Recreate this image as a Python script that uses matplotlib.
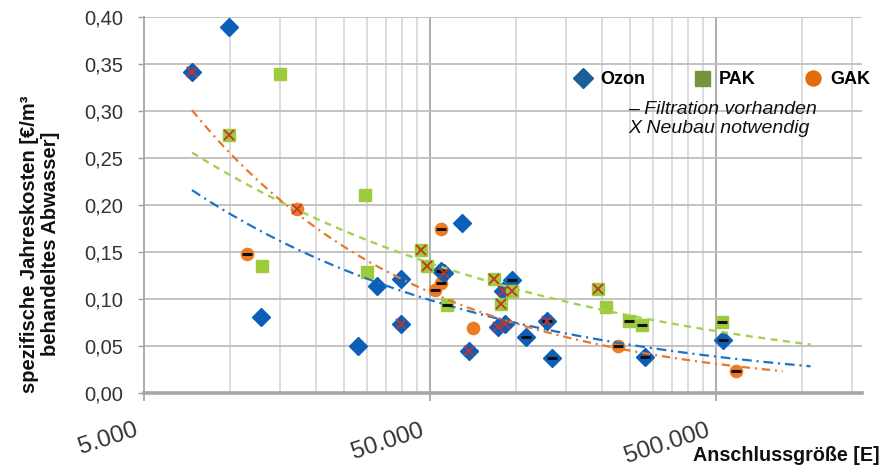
import numpy as np
import matplotlib
matplotlib.use("Agg")
import matplotlib.pyplot as plt
from matplotlib.lines import Line2D
from matplotlib.ticker import NullFormatter

# ---------------- data ----------------
ozon_x = [7360, 9900, 12800, 28000, 32600, 39600, 39600, 64700, 54600, 56000,
          68500, 86500, 91500, 96700, 90000, 108000, 128000, 133500, 282000, 529000]
ozon_y = [0.341, 0.389, 0.081, 0.050, 0.114, 0.1215, 0.0736, 0.181, 0.130, 0.128,
          0.0448, 0.0704, 0.0736, 0.1205, 0.108, 0.060, 0.077, 0.0373, 0.0384, 0.0565]
ozon_dash = [0, 0, 0, 0, 0, 0, 0, 0, 1, 0, 0, 0, 0, 1, 0, 1, 1, 1, 1, 1]
ozon_cross = [1, 0, 0, 0, 0, 0, 1, 0, 0, 1, 1, 1, 1, 0, 1, 0, 1, 0, 0, 0]

pak_x = [9900, 14950, 12900, 29600, 30100, 46500, 48800, 57300, 83700, 88600,
         96700, 193000, 206000, 248000, 275000, 525000]
pak_y = [0.274, 0.339, 0.135, 0.211, 0.129, 0.1525, 0.135, 0.094, 0.1215, 0.095,
         0.108, 0.111, 0.0917, 0.0768, 0.0725, 0.0757]
pak_dash = [0, 0, 0, 0, 0, 0, 0, 1, 0, 0, 0, 0, 0, 1, 1, 1]
pak_cross = [1, 0, 0, 0, 0, 1, 1, 0, 1, 1, 1, 1, 0, 0, 0, 0]

gak_x = [7360, 17100, 11500, 54600, 54600, 52000, 70700, 227000, 587000]
gak_y = [0.341, 0.196, 0.148, 0.174, 0.117, 0.110, 0.069, 0.050, 0.0235]
gak_dash = [0, 0, 1, 1, 1, 1, 0, 1, 1]
gak_cross = [1, 1, 0, 0, 0, 0, 0, 0, 0]

# extent of the power trend lines along x
trend_start = 7360
ozon_trend_end = 1070000
pak_trend_end = 1070000
gak_trend_end = 855000

x_ticks = [5000, 50000, 500000]
x_tick_labels = ["5.000", "50.000", "500.000"]
x_minor_mult = [2, 3, 4, 5, 6, 7, 8, 9]
y_ticks = [0.0, 0.05, 0.10, 0.15, 0.20, 0.25, 0.30, 0.35, 0.40]
y_tick_labels = ["0,00", "0,05", "0,10", "0,15", "0,20", "0,25", "0,30", "0,35", "0,40"]

series_names = ["Ozon", "PAK", "GAK"]
x_label = "Anschlussgröße [E]"
y_label = "spezifische Jahreskosten [€/m³\nbehandeltes Abwasser]"
note1 = "– Filtration vorhanden"
note2 = "X Neubau notwendig"

# ---------------- styling ----------------
plt.rcParams["font.family"] = ["Liberation Sans", "DejaVu Sans"]
plt.rcParams["lines.scale_dashes"] = False

C_OZON = "#0B5FB8"
C_PAK = "#9CCB3B"
C_GAK = "#EE7A22"
C_OZON_LEG = "#1E5E98"
C_PAK_LEG = "#77933C"
C_GAK_LEG = "#E46C0A"
C_CROSS = "#C8322C"
TXT = "#333333"

fig = plt.figure(figsize=(8.9, 4.69), dpi=100)
ax = fig.add_axes([144 / 890, 1 - 393 / 469, (862 - 144) / 890, (393 - 17) / 469])

ax.set_xscale("log")
xmax = 1.62e6
ax.set_xlim(5000, xmax)
ax.set_ylim(0, 0.40)

# grid
minor_pos = [x0 * m for x0 in x_ticks for m in x_minor_mult if x0 * m < xmax]
for xv in minor_pos:
    ax.axvline(xv, color="#D2D2D2", lw=1.1, zorder=1)
for xv in x_ticks[1:]:
    ax.axvline(xv, color="#A8A8A8", lw=1.3, zorder=1)
for yv in y_ticks[1:]:
    ax.axhline(yv, color="#BEBEBE", lw=1.3, zorder=1)

ax.set_xticks(x_ticks)
ax.set_xticklabels([])
ax.set_xticks(minor_pos, minor=True)
ax.xaxis.set_minor_formatter(NullFormatter())
ax.tick_params(axis="x", which="minor", length=0)
ax.tick_params(axis="x", which="major", length=6, width=1.2, color="#A0A0A0")
# rotated x tick labels, placed at the tick positions
for xv, lab in zip(x_ticks, x_tick_labels):
    ax.annotate(lab, xy=(xv, 0), xycoords=("data", "axes fraction"),
                xytext=(-7, -19), textcoords="offset points",
                rotation=18, rotation_mode="anchor", ha="right", va="top",
                fontsize=17.5, color=TXT, annotation_clip=False)

ax.set_yticks(y_ticks)
ax.set_yticklabels(y_tick_labels)
ax.tick_params(axis="y", length=4, width=1.0, color="#A0A0A0", pad=11,
               labelsize=14.5, labelcolor=TXT)

for s in ["top", "right"]:
    ax.spines[s].set_visible(False)
ax.spines["left"].set_color("#A6A6A6")
ax.spines["left"].set_linewidth(1.3)
ax.spines["bottom"].set_color("#A6A6A6")
ax.spines["bottom"].set_linewidth(2.6)

# markers
ax.plot(gak_x, gak_y, ls="none", marker="o", ms=8.8, color=C_GAK, mec=C_GAK, zorder=3)
ax.plot(ozon_x, ozon_y, ls="none", marker="D", ms=8.8, color=C_OZON, mec=C_OZON, zorder=4)
ax.plot(pak_x, pak_y, ls="none", marker="s", ms=9.3, color=C_PAK, mec=C_PAK, zorder=5)

# power trend lines fitted to the data
def power_trend(xs, ys, x_end):
    b, ln_a = np.polyfit(np.log(xs), np.log(ys), 1)
    xt = np.geomspace(trend_start, x_end, 200)
    return xt, np.exp(ln_a) * xt ** b

xt, yt = power_trend(ozon_x, ozon_y, ozon_trend_end)
ax.plot(xt, yt, color="#1C72C4", lw=1.6, ls=(0, (7, 3.5, 1.5, 3.5)), zorder=6)
xt, yt = power_trend(pak_x, pak_y, pak_trend_end)
ax.plot(xt, yt, color="#A2D24F", lw=1.7, ls=(0, (5, 4)), zorder=6)
xt, yt = power_trend(gak_x, gak_y, gak_trend_end)
ax.plot(xt, yt, color="#E8782A", lw=1.6, ls=(0, (6, 3.5, 1.5, 3.5)), zorder=6)

# flags: dash = Filtration vorhanden, X = Neubau notwendig
for xs, ys, ds, cs in [(ozon_x, ozon_y, ozon_dash, ozon_cross),
                       (pak_x, pak_y, pak_dash, pak_cross),
                       (gak_x, gak_y, gak_dash, gak_cross)]:
    dx = [x for x, d in zip(xs, ds) if d]
    dy = [y for y, d in zip(ys, ds) if d]
    cx = [x for x, c in zip(xs, cs) if c]
    cy = [y for y, c in zip(ys, cs) if c]
    ax.plot(dx, dy, ls="none", marker="_", ms=6.5, mew=2.2, color="#111111", zorder=8)
    ax.plot(cx, cy, ls="none", marker="x", ms=7.5, mew=1.3, color=C_CROSS, zorder=8)

# legend
handles = [
    Line2D([], [], ls="none", marker="D", ms=10.5, color=C_OZON_LEG),
    Line2D([], [], ls="none", marker="s", ms=10.8, color=C_PAK_LEG),
    Line2D([], [], ls="none", marker="o", ms=10.8, color=C_GAK_LEG),
]
ax.legend(handles, series_names, ncol=3, loc="center left",
          bbox_to_anchor=((574 - 144) / 718, (393 - 80) / 376),
          frameon=False, borderpad=0, borderaxespad=0, handlelength=1.0,
          handletextpad=0.45, columnspacing=2.65,
          prop={"weight": "bold", "size": 13})
ax.text((628 - 144) / 718, (393 - 114) / 376, note1, transform=ax.transAxes,
        fontsize=14, style="italic", color="#111111", va="baseline", ha="left")
ax.text((628 - 144) / 718, (393 - 133) / 376, note2, transform=ax.transAxes,
        fontsize=14, style="italic", color="#111111", va="baseline", ha="left")

# axis titles
fig.text(40 / 890, 1 - 244 / 469, y_label, rotation=90, ha="center", va="center",
         multialignment="center", fontsize=14.5, fontweight="bold", color="#111111",
         linespacing=1.1)
fig.text(880 / 890, 1 - 455 / 469, x_label, ha="right", va="center",
         fontsize=14.2, fontweight="bold", color="#111111")

fig.savefig("out.png", dpi=100, facecolor="white")
